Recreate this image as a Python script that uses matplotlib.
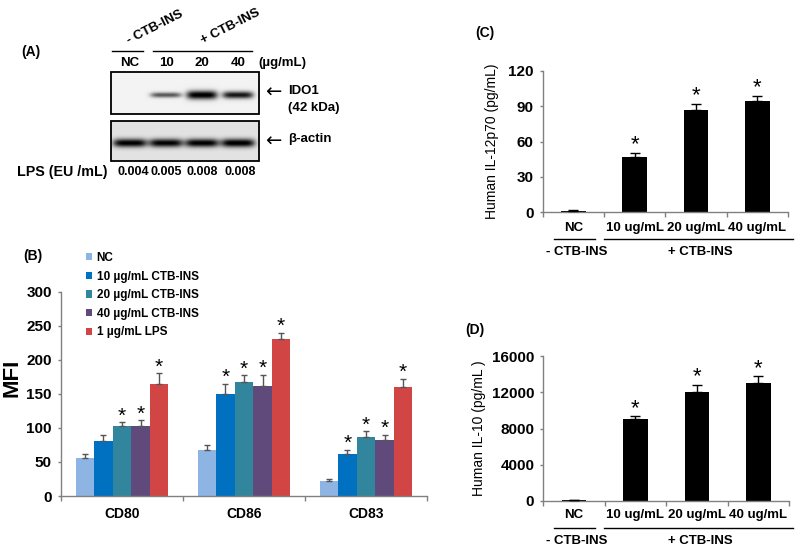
import numpy as np
import matplotlib
matplotlib.use('Agg')
import matplotlib.pyplot as plt
from matplotlib.patches import Rectangle

plt.rcParams['font.family'] = ['Liberation Sans', 'DejaVu Sans']

# ---------------- data ----------------
# Panel A (western blot)
blot_lanes = ['NC', '10', '20', '40']
ido1_intensity = [0.0, 0.62, 1.0, 0.88]
ido1_thickness = [0.0, 2.6, 4.3, 3.6]
actin_intensity = [0.92, 0.9, 0.92, 0.94]
lps_eu = ['0.004', '0.005', '0.008', '0.008']

# Panel B (MFI)
markers = ['CD80', 'CD86', 'CD83']
b_series = ['NC', '10 µg/mL CTB-INS', '20 µg/mL CTB-INS', '40 µg/mL CTB-INS', '1 µg/mL LPS']
mfi_nc = [56, 67, 22]
mfi_10 = [81, 150, 62]
mfi_20 = [103, 167, 87]
mfi_40 = [103, 162, 82]
mfi_lps = [165, 230, 160]
err_nc = [6, 8, 3]
err_10 = [8, 15, 6]
err_20 = [5, 10, 8]
err_40 = [8, 16, 8]
err_lps = [15, 10, 12]
star_nc = [False, False, False]
star_10 = [False, True, True]
star_20 = [True, True, True]
star_40 = [True, True, True]
star_lps = [True, True, True]

# Panel C (IL-12p70)
doses = ['NC', '10 ug/mL', '20 ug/mL', '40 ug/mL']
il12 = [1.5, 47, 87, 94]
il12_err = [0.3, 3, 5, 4.5]
il12_star = [False, True, True, True]

# Panel D (IL-10)
il10 = [100, 9000, 12050, 13050]
il10_err = [30, 350, 780, 700]
il10_star = [False, True, True, True]

# ---------------- figure ----------------
W, H = 800, 551
fig = plt.figure(figsize=(8, 5.51), dpi=100)


def axes_px(l, t, r, b):
    return fig.add_axes([l / W, 1 - b / H, (r - l) / W, (b - t) / H])


SPINE = '#808080'
BOLD = dict(fontweight='bold')


def style_axes(ax, n, ylim, yticks, ticksize):
    ax.set_xlim(-0.5, n - 0.5)
    ax.set_ylim(*ylim)
    ax.set_yticks(yticks)
    for s in ['top', 'right']:
        ax.spines[s].set_visible(False)
    for s in ['left', 'bottom']:
        ax.spines[s].set_color(SPINE)
        ax.spines[s].set_linewidth(1.0)
    ax.tick_params(axis='y', direction='out', length=2.5, width=1, color=SPINE,
                   pad=4, labelsize=ticksize)
    ax.set_xticks(list(np.arange(n) - 0.5) + [n - 0.5], minor=True)
    ax.tick_params(axis='x', which='minor', direction='out', length=3.5, width=1, color=SPINE)
    for lab in ax.get_yticklabels():
        lab.set_fontweight('bold')


# ---- Panel B ----
axB = axes_px(61, 291.7, 427, 496)
b_vals = [mfi_nc, mfi_10, mfi_20, mfi_40, mfi_lps]
b_errs = [err_nc, err_10, err_20, err_40, err_lps]
b_stars = [star_nc, star_10, star_20, star_40, star_lps]
b_colors = ['#8DB4E2', '#0070C0', '#31859C', '#604A7B', '#D24545']
xb = np.arange(len(markers))
wb = 0.152
handles = []
for i, (v, e, st, c, lab) in enumerate(zip(b_vals, b_errs, b_stars, b_colors, b_series)):
    pos = xb + (i - 2) * wb
    h = axB.bar(pos, v, wb, color=c, label=lab, zorder=2)
    handles.append(h)
    axB.errorbar(pos, v, yerr=[np.zeros(len(e)), e], fmt='none', ecolor='#555555',
                 elinewidth=1, capsize=2.5, capthick=1, zorder=3)
    for p, vv, ee, ss in zip(pos, v, e, st):
        if ss:
            axB.annotate('*', (p, vv + ee), xytext=(0, 0.5), textcoords='offset points',
                         ha='center', va='baseline', fontsize=15)
style_axes(axB, len(markers), (0, 300), np.arange(0, 301, 50), 11)
axB.set_xticks(xb)
axB.set_xticklabels(markers, fontsize=10, fontweight='bold')
axB.tick_params(axis='x', which='major', length=0, pad=8)
axB.set_ylabel('MFI', fontsize=16, fontweight='bold')
axB.yaxis.set_label_coords(-0.105, 0.58)
axB.legend(handles, b_series, loc='upper left', bbox_to_anchor=(86 / W, 1 - 252 / H),
           bbox_transform=fig.transFigure, frameon=False, handlelength=0.55,
           handleheight=0.55, handletextpad=0.35, labelspacing=0.56, borderpad=0,
           borderaxespad=0, prop=dict(size=8.5, weight='bold'))

# ---- Panel C ----
axC = axes_px(542.7, 70.7, 788, 212.3)
xc = np.arange(len(doses))
axC.bar(xc, il12, 0.4, color='black', zorder=2)
axC.errorbar(xc, il12, yerr=[np.zeros(len(il12_err)), il12_err], fmt='none', ecolor='black',
             elinewidth=1, capsize=3.5, capthick=1, zorder=3)
for p, vv, ee, ss in zip(xc, il12, il12_err, il12_star):
    if ss:
        axC.annotate('*', (p, vv + ee), xytext=(0, 2), textcoords='offset points',
                     ha='center', va='baseline', fontsize=16)
style_axes(axC, len(doses), (0, 120), np.arange(0, 121, 30), 11)
axC.set_xticks(xc)
axC.set_xticklabels(doses, fontsize=9.5, fontweight='bold')
axC.tick_params(axis='x', which='major', length=0, pad=7)
axC.set_ylabel('Human IL-12p70 (pg/mL)', fontsize=10)
axC.yaxis.set_label_coords(-0.18, 0.5)

# ---- Panel D ----
axD = axes_px(543.3, 356, 789, 501)
xd = np.arange(len(doses))
axD.bar(xd, il10, 0.4, color='black', zorder=2)
axD.errorbar(xd, il10, yerr=[np.zeros(len(il10_err)), il10_err], fmt='none', ecolor='black',
             elinewidth=1, capsize=3.5, capthick=1, zorder=3)
for p, vv, ee, ss in zip(xd, il10, il10_err, il10_star):
    if ss:
        axD.annotate('*', (p, vv + ee), xytext=(0, 1.5), textcoords='offset points',
                     ha='center', va='baseline', fontsize=16)
style_axes(axD, len(doses), (0, 16000), np.arange(0, 16001, 4000), 11)
axD.set_xticks(xd)
axD.set_xticklabels(doses, fontsize=9.5, fontweight='bold')
axD.tick_params(axis='x', which='major', length=0, pad=6)
axD.set_ylabel('Human IL-10 (pg/mL )', fontsize=10)
axD.yaxis.set_label_coords(-0.232, 0.5)

# ---- overlay (panel A + annotations) ----
ov = fig.add_axes([0, 0, 1, 1], zorder=5)
ov.patch.set_alpha(0)

lane_x = [130, 166, 202, 238]


def blot(x0, x1, y0, y1, bg, intens, thick, cy, halfw):
    res = 4
    xs = np.linspace(x0, x1, int((x1 - x0) * res))
    ys = np.linspace(y0, y1, int((y1 - y0) * res))
    X, Y = np.meshgrid(xs, ys)
    img = np.full(X.shape, bg)
    for cx, I, th in zip(lane_x, intens, thick):
        if I <= 0 or th <= 0:
            continue
        img += I * np.exp(-np.abs((X - cx) / halfw) ** 5) * np.exp(-((Y - cy) / th) ** 2)
    img = np.clip(img, 0, 1)
    ov.imshow(img, cmap='gray_r', vmin=0, vmax=1, extent=(x0, x1, y1, y0),
              origin='upper', aspect='auto', interpolation='bilinear', zorder=1)
    ov.add_patch(Rectangle((x0, y0), x1 - x0, y1 - y0, fill=False, edgecolor='black',
                           linewidth=1.3, zorder=2))


blot(111, 259, 72, 114, 0.05, ido1_intensity, ido1_thickness, 95, 15.5)
blot(111, 259, 121, 161, 0.11, actin_intensity, [4.2] * 4, 143, 17)

ov.text(31, 52, '(A)', ha='center', va='center', fontsize=10, **BOLD)
ov.text(155, 27, '- CTB-INS', ha='center', va='center', rotation=27,
        rotation_mode='anchor', fontsize=9.5, **BOLD)
ov.text(230, 27, '+ CTB-INS', ha='center', va='center', rotation=27,
        rotation_mode='anchor', fontsize=9.5, **BOLD)
ov.plot([112, 143], [51, 51], color='black', lw=1)
ov.plot([153, 252], [51, 51], color='black', lw=1)
for lx, lab in zip(lane_x, blot_lanes):
    ov.text(lx, 63, lab, ha='center', va='center', fontsize=9.5, **BOLD)
ov.text(258, 63, '(µg/mL)', ha='left', va='center', fontsize=9.5, **BOLD)
ov.text(273, 92, '←', ha='center', va='center', fontsize=14, family='DejaVu Sans')
ov.text(273, 141, '←', ha='center', va='center', fontsize=14, family='DejaVu Sans')
ov.text(288, 91, 'IDO1', ha='left', va='center', fontsize=9.5, **BOLD)
ov.text(288, 108, '(42 kDa)', ha='left', va='center', fontsize=9.5, **BOLD)
ov.text(288, 139, 'β-actin', ha='left', va='center', fontsize=9.5, **BOLD)
ov.text(17, 172, 'LPS (EU /mL)', ha='left', va='center', fontsize=10.3, **BOLD)
for lx, val in zip([133, 166, 202, 240], lps_eu):
    ov.text(lx, 172, val, ha='center', va='center', fontsize=9, **BOLD)

ov.text(33, 256, '(B)', ha='center', va='center', fontsize=10, **BOLD)
ov.text(485, 33, '(C)', ha='center', va='center', fontsize=10, **BOLD)
ov.text(475, 330, '(D)', ha='center', va='center', fontsize=10, **BOLD)

# group brackets under C and D
for ly, gy in [(239, 252), (528, 541)]:
    ov.plot([554, 595], [ly, ly], color='black', lw=1)
    ov.plot([604, 793], [ly, ly], color='black', lw=1)
    ov.text(577, gy, '- CTB-INS', ha='center', va='center', fontsize=9.5, **BOLD)
    ov.text(700, gy, '+ CTB-INS', ha='center', va='center', fontsize=9.5, **BOLD)

ov.set_xlim(0, W)
ov.set_ylim(H, 0)
ov.axis('off')

fig.savefig('out.png', dpi=100)
